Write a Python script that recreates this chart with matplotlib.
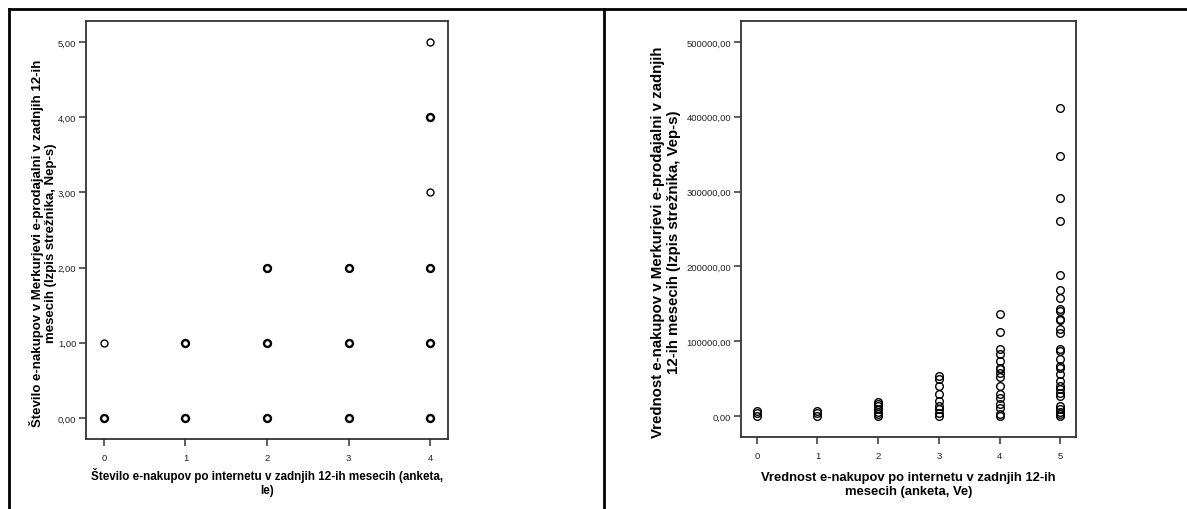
import matplotlib.pyplot as plt
from matplotlib.lines import Line2D
from matplotlib.ticker import FuncFormatter

plt.rcParams['font.family'] = ['Liberation Sans', 'DejaVu Sans']

# left chart: number of purchases (survey) vs number of purchases (server log)
left_x = [0, 0, 1, 1, 2, 2, 2, 3, 3, 3, 4, 4, 4, 4, 4, 4]
left_y = [0, 1, 0, 1, 0, 1, 2, 0, 1, 2, 0, 1, 2, 3, 4, 5]
left_n = [3, 1, 3, 3, 3, 3, 3, 3, 3, 3, 3, 3, 3, 1, 2, 1]

# right chart: value of purchases, one list per survey class
right_vals = {
    0: [0, 3600, 6700],
    1: [0, 3600, 6700],
    2: [0, 2200, 5300, 9800, 13400, 16500, 18700],
    3: [0, 3600, 8900, 13400, 20000, 29000, 40100, 49900, 53500],
    4: [0, 2200, 11100, 15600, 24500, 29900, 40100, 52100, 57900, 62400,
        64600, 73500, 83300, 89100, 112300, 135900],
    5: [0, 2200, 5300, 9800, 13400, 26700, 31200, 35600, 40100, 46800,
        55700, 64600, 66800, 76600, 86900, 89100, 110500, 115900, 127900,
        129200, 140400, 143500, 158200, 168000, 188500, 260700, 291400,
        347600, 411800],
}

W, H = 1187, 510
fig = plt.figure(figsize=(W / 100, H / 100), dpi=100)

# frame lines of the output table
fig.add_artist(Line2D([9.5 / W, 1], [1 - 10 / H, 1 - 10 / H], color='black', lw=2))
fig.add_artist(Line2D([9.5 / W, 9.5 / W], [0, 1 - 10 / H], color='black', lw=2))
fig.add_artist(Line2D([603.5 / W, 603.5 / W], [0, 1 - 10 / H], color='black', lw=2))


def style(ax):
    for s in ax.spines.values():
        s.set_color('#333333')
        s.set_linewidth(1.3)
    ax.tick_params(direction='out', length=5, width=1.1, color='#333333',
                   labelsize=6.8, labelcolor='#222222', pad=2)
    ax.tick_params(axis='x', pad=5)


comma = FuncFormatter(lambda v, p: f'{v:.2f}'.replace('.', ','))

# left
ax1 = fig.add_axes([86 / W, 1 - 440 / H, 362 / W, 418 / H])
for x, y, n in zip(left_x, left_y, left_n):
    ax1.plot(x, y, 'o', mfc='white', mec='black', ms=5,
             mew=1.0 if n == 1 else 1.7, ls='none')
ax1.set_xlim(-0.22, 4.22)
ax1.set_ylim(-0.28, 5.28)
ax1.set_xticks(range(5))
ax1.set_yticks(range(6))
ax1.yaxis.set_major_formatter(comma)
style(ax1)
ax1.set_xlabel('Število e-nakupov po internetu v zadnjih 12-ih mesecih (anketa,\nIe)',
               fontsize=8.4, fontweight='bold')
ax1.set_ylabel('Število e-nakupov v Merkurjevi e-prodajalni v zadnjih 12-ih\nmesecih (Izpis strežnika, Nep-s)',
               fontsize=9.5, fontweight='bold', linespacing=1.15)
ax1.xaxis.set_label_coords(0.5, -0.068)
ax1.yaxis.set_label_coords(-0.08, 0.47)

# right
ax2 = fig.add_axes([741 / W, 1 - 438 / H, 335 / W, 416 / H])
for x, vals in right_vals.items():
    ax2.plot([x] * len(vals), vals, 'o', mfc='none', mec='black', ms=5.5,
             mew=1.0, ls='none')
ax2.set_xlim(-0.26, 5.26)
ax2.set_ylim(-28000, 528000)
ax2.set_xticks(range(6))
ax2.set_yticks(range(0, 500001, 100000))
ax2.yaxis.set_major_formatter(comma)
style(ax2)
ax2.set_xlabel('Vrednost e-nakupov po internetu v zadnjih 12-ih\nmesecih (anketa, Ve)',
               fontsize=9.4, fontweight='bold')
ax2.set_ylabel('Vrednost e-nakupov v Merkurjevi e-prodajalni v zadnjih\n12-ih mesecih (Izpis strežnika, Vep-s)',
               fontsize=10.8, fontweight='bold', linespacing=1.15)
ax2.xaxis.set_label_coords(0.5, -0.082)
ax2.yaxis.set_label_coords(-0.18, 0.47)

fig.savefig('out.png', dpi=100)
